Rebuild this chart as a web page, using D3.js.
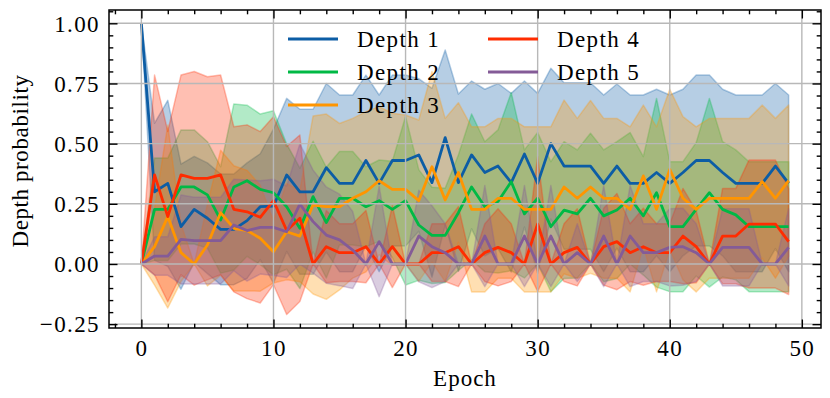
<!DOCTYPE html>
<html>
<head>
<meta charset="utf-8">
<script src="https://cdn.jsdelivr.net/npm/d3@7"></script>
<style>
  html, body { margin: 0; padding: 0; background: #fff; }
  svg { display: block; }
</style>
</head>
<body>
<div id="chart"></div>
<script>
// Epochs 0..49
const epochs = d3.range(0, 50);
const seriesNames = ['Depth 1', 'Depth 2', 'Depth 3', 'Depth 4', 'Depth 5'];
const seriesColors = ['#0C5DA5', '#00B945', '#FF9500', '#FF2C00', '#845B97'];

// mean depth probability per epoch
const depth1Mean = [1.0, 0.30, 0.335, 0.155, 0.227, 0.19, 0.144, 0.144, 0.18, 0.238, 0.24,
  0.37, 0.30, 0.30, 0.40, 0.335, 0.335, 0.43, 0.335, 0.43, 0.43,
  0.453, 0.338, 0.525, 0.338, 0.453, 0.38, 0.407, 0.338, 0.457, 0.335,
  0.50, 0.407, 0.407, 0.407, 0.335, 0.407, 0.335, 0.335, 0.38, 0.335,
  0.38, 0.43, 0.43, 0.38, 0.335, 0.335, 0.335, 0.407, 0.335];
const depth2Mean = [0, 0.227, 0.227, 0.32, 0.32, 0.287, 0.183, 0.32, 0.346, 0.31, 0.296,
  0.238, 0.148, 0.28, 0.172, 0.273, 0.273, 0.238, 0.263, 0.227, 0.263,
  0.162, 0.119, 0.119, 0.213, 0.32, 0.238, 0.26, 0.342, 0.208, 0.273,
  0.155, 0.224, 0.208, 0.273, 0.2, 0.224, 0.273, 0.2, 0.296, 0.155,
  0.155, 0.227, 0.296, 0.227, 0.204, 0.155, 0.155, 0.155, 0.155];
const depth3Mean = [0, 0.072, 0.197, 0.047, 0, 0.079, 0.213, 0.148, 0.139, 0.107, 0.051,
  0.134, 0.116, 0.245, 0.238, 0.238, 0.273, 0.30, 0.346, 0.31, 0.31,
  0.263, 0.404, 0.266, 0.38, 0.227, 0.227, 0.273, 0.273, 0.227, 0.227,
  0.227, 0.32, 0.273, 0.32, 0.273, 0.273, 0.227, 0.366, 0.227, 0.393,
  0.273, 0.227, 0.273, 0.273, 0.273, 0.273, 0.342, 0.273, 0.346];
const depth4Mean = [0, 0.37, 0.197, 0.37, 0.356, 0.356, 0.37, 0.227, 0.217, 0.194, 0.263,
  0.139, 0.19, 0, 0.072, 0.047, 0.047, 0.072, 0, 0.072, 0,
  0, 0.047, 0.047, 0.072, 0, 0.047, 0.069, 0.047, 0, 0.166,
  0, 0.047, 0.069, 0, 0.072, 0.093, 0.047, 0.072, 0.047, 0.047,
  0.116, 0.072, 0, 0.116, 0.116, 0.166, 0.166, 0.166, 0.093];
const depth5Mean = [0, 0.033, 0.033, 0.102, 0.097, 0.097, 0.097, 0.162, 0.139, 0.152, 0.152,
  0.134, 0.249, 0.176, 0.12, 0.1, 0.058, 0, 0.093, 0, 0,
  0.116, 0.072, 0.047, 0, 0, 0.116, 0, 0, 0.116, 0,
  0.116, 0, 0.047, 0, 0.116, 0, 0.116, 0.047, 0.047, 0.069,
  0.072, 0.047, 0, 0.069, 0.069, 0.069, 0, 0, 0.069];

// standard deviation per epoch (band = mean ± std)
const depth1Std = [0, 0.285, 0.345, 0.26, 0.22, 0.23, 0.23, 0.23, 0.24, 0.22, 0.32,
  0.318, 0.343, 0.343, 0.35, 0.367, 0.367, 0.355, 0.367, 0.355, 0.355,
  0.317, 0.392, 0.364, 0.368, 0.307, 0.346, 0.343, 0.371, 0.303, 0.374,
  0.313, 0.346, 0.346, 0.346, 0.367, 0.341, 0.367, 0.367, 0.346, 0.367,
  0.346, 0.355, 0.355, 0.346, 0.367, 0.367, 0.367, 0.343, 0.367];
const depth2Std = [0, 0.213, 0.213, 0.237, 0.237, 0.221, 0.221, 0.345, 0.314, 0.313, 0.341,
  0.26, 0.25, 0.23, 0.23, 0.194, 0.194, 0.166, 0.169, 0.2, 0.35,
  0.23, 0.2, 0.196, 0.24, 0.303, 0.27, 0.297, 0.37, 0.266, 0.273,
  0.27, 0.284, 0.266, 0.27, 0.274, 0.284, 0.273, 0.246, 0.392, 0.27,
  0.27, 0.277, 0.392, 0.281, 0.27, 0.27, 0.27, 0.27, 0.27];
const depth3Std = [0, 0.16, 0.38, 0.12, 0, 0.17, 0.26, 0.26, 0.25, 0.22, 0.13,
  0.2, 0.19, 0.37, 0.385, 0.346, 0.332, 0.333, 0.308, 0.316, 0.309,
  0.335, 0.396, 0.339, 0.29, 0.343, 0.343, 0.332, 0.332, 0.343, 0.343,
  0.343, 0.361, 0.332, 0.359, 0.332, 0.332, 0.343, 0.294, 0.343, 0.333,
  0.339, 0.343, 0.332, 0.332, 0.332, 0.332, 0.318, 0.332, 0.314];
const depth4Std = [0, 0.415, 0.354, 0.415, 0.444, 0.422, 0.415, 0.343, 0.361, 0.356, 0.349,
  0.349, 0.346, 0, 0.15, 0.12, 0.12, 0.15, 0, 0.17, 0,
  0, 0.12, 0.12, 0.166, 0, 0.12, 0.16, 0.12, 0, 0.28,
  0, 0.12, 0.16, 0, 0.16, 0.2, 0.12, 0.16, 0.12, 0.12,
  0.198, 0.15, 0, 0.198, 0.198, 0.266, 0.266, 0.266, 0.22];
const depth5Std = [0, 0.08, 0.08, 0.185, 0.18, 0.18, 0.18, 0.19, 0.21, 0.194, 0.2,
  0.19, 0.25, 0.214, 0.2, 0.19, 0.16, 0, 0.229, 0, 0,
  0.19, 0.17, 0.12, 0, 0, 0.21, 0, 0, 0.21, 0,
  0.21, 0, 0.12, 0, 0.21, 0, 0.21, 0.12, 0.12, 0.16,
  0.16, 0.12, 0, 0.16, 0.16, 0.16, 0, 0, 0.16];

const xTicks = [0, 10, 20, 30, 40, 50];
const yTicks = [-0.25, 0, 0.25, 0.5, 0.75, 1.0];

const means = [depth1Mean, depth2Mean, depth3Mean, depth4Mean, depth5Mean];
const stds = [depth1Std, depth2Std, depth3Std, depth4Std, depth5Std];

const width = 830, height = 398;
const plot = { left: 109, right: 821, top: 10, bottom: 328 };
const fontFamily = "'Liberation Serif', 'DejaVu Serif', serif";
const fontSize = 23;
const spacing = '1.4px';

const x = d3.scaleLinear().domain([-2.45, 51.45]).range([plot.left, plot.right]);
const y = d3.scaleLinear().domain([-0.266, 1.0553]).range([plot.bottom, plot.top]);

const svg = d3.select('#chart').append('svg')
  .attr('width', width).attr('height', height)
  .style('font-family', fontFamily);

svg.append('defs').append('clipPath').attr('id', 'clip')
  .append('rect')
  .attr('x', plot.left).attr('y', plot.top)
  .attr('width', plot.right - plot.left).attr('height', plot.bottom - plot.top);

const series = seriesNames.map((name, i) => ({
  name, color: seriesColors[i],
  values: epochs.map((e, j) => ({ epoch: e, mean: means[i][j], std: stds[i][j] }))
}));

const body = svg.append('g').attr('clip-path', 'url(#clip)');

// shaded bands (mean ± std)
const area = d3.area()
  .x(d => x(d.epoch))
  .y0(d => y(d.mean - d.std))
  .y1(d => y(d.mean + d.std));

series.forEach(s => {
  body.append('path')
    .datum(s.values)
    .attr('fill', s.color)
    .attr('fill-opacity', 0.3)
    .attr('stroke', s.color)
    .attr('stroke-opacity', 0.3)
    .attr('stroke-width', 1.5)
    .attr('stroke-linejoin', 'round')
    .attr('d', area);
});

// grid (above the bands, below the lines)
const grid = svg.append('g');
grid.selectAll('.gx').data(xTicks).join('line')
  .attr('x1', d => x(d)).attr('x2', d => x(d))
  .attr('y1', plot.top).attr('y2', plot.bottom)
  .attr('stroke', '#b8b8b8').attr('stroke-width', 1.4);
grid.selectAll('.gy').data(yTicks).join('line')
  .attr('x1', plot.left).attr('x2', plot.right)
  .attr('y1', d => y(d)).attr('y2', d => y(d))
  .attr('stroke', '#b8b8b8').attr('stroke-width', 1.4);

// mean lines
const line = d3.line().x(d => x(d.epoch)).y(d => y(d.mean));
series.forEach(s => {
  body.append('path')
    .datum(s.values)
    .attr('fill', 'none')
    .attr('stroke', s.color)
    .attr('stroke-width', 2.8)
    .attr('stroke-linejoin', 'round')
    .attr('d', line);
});

// axes: ticks inward on all four sides, minor ticks too
const majorLen = 8.5, minorLen = 4.3, tickW = 1.4;
const xMinor = d3.range(-2, 52, 2).filter(v => v % 10 !== 0);
const yMinor = d3.range(-25, 106, 5).map(v => v / 100).filter(v => Math.round(v * 100) % 25 !== 0);

function sideAxis(axisFn, scale, ticks, len, transform, fmt) {
  const g = svg.append('g')
    .attr('transform', transform)
    .call(axisFn(scale).tickValues(ticks).tickSizeInner(-len).tickSizeOuter(0).tickFormat(fmt || ''));
  g.select('.domain').remove();
  g.selectAll('.tick line').attr('stroke', '#000').attr('stroke-width', tickW);
  return g;
}

// bottom
const xFmt = d3.format('d');
const gx = sideAxis(d3.axisBottom, x, xTicks, majorLen, `translate(0,${plot.bottom})`, xFmt);
gx.selectAll('.tick text').attr('y', 12).attr('dy', '0.71em')
  .attr('font-size', fontSize).attr('font-family', fontFamily).attr('fill', '#000')
  .style('letter-spacing', spacing);
sideAxis(d3.axisBottom, x, xMinor, minorLen, `translate(0,${plot.bottom})`);
// top
sideAxis(d3.axisTop, x, xTicks, majorLen, `translate(0,${plot.top})`);
sideAxis(d3.axisTop, x, xMinor, minorLen, `translate(0,${plot.top})`);
// left
const yFmt = d3.format('.2f');
const gy = sideAxis(d3.axisLeft, y, yTicks, majorLen, `translate(${plot.left},0)`, yFmt);
gy.selectAll('.tick text').attr('x', -9).attr('dy', '0.34em')
  .attr('font-size', fontSize).attr('font-family', fontFamily).attr('fill', '#000')
  .style('letter-spacing', spacing);
sideAxis(d3.axisLeft, y, yMinor, minorLen, `translate(${plot.left},0)`);
// right
sideAxis(d3.axisRight, y, yTicks, majorLen, `translate(${plot.right},0)`);
sideAxis(d3.axisRight, y, yMinor, minorLen, `translate(${plot.right},0)`);

// frame
svg.append('rect')
  .attr('x', plot.left).attr('y', plot.top)
  .attr('width', plot.right - plot.left).attr('height', plot.bottom - plot.top)
  .attr('fill', 'none').attr('stroke', '#000').attr('stroke-width', 1.5);

// axis labels
svg.append('text')
  .attr('x', (plot.left + plot.right) / 2).attr('y', 386)
  .attr('text-anchor', 'middle').attr('font-size', fontSize)
  .style('letter-spacing', '1px')
  .text('Epoch');
svg.append('text')
  .attr('transform', `translate(28,${(plot.top + plot.bottom) / 2 - 8}) rotate(-90)`)
  .attr('text-anchor', 'middle').attr('font-size', fontSize)
  .style('letter-spacing', '0.6px')
  .text('Depth probability');

// legend, two columns filled column-wise, no frame
const legend = svg.append('g');
const colX = [288, 488], rowY = [39, 72, 105];
series.forEach((s, i) => {
  const col = Math.floor(i / 3), row = i % 3;
  const g = legend.append('g').attr('transform', `translate(${colX[col]},${rowY[row]})`);
  g.append('line').attr('x1', 0).attr('x2', 50).attr('y1', 0).attr('y2', 0)
    .attr('stroke', s.color).attr('stroke-width', 2.8);
  g.append('text').attr('x', 69).attr('dy', '0.34em')
    .attr('font-size', fontSize).style('letter-spacing', spacing)
    .text(s.name);
});
</script>
</body>
</html>
